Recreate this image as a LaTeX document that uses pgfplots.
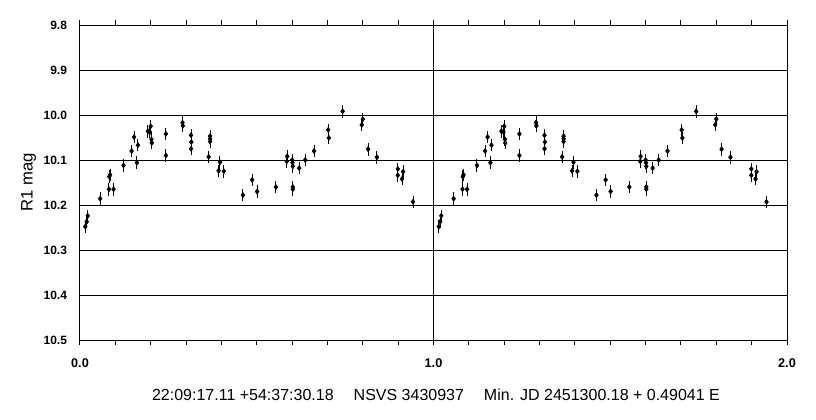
\documentclass[border=0pt]{standalone}
\usepackage{fontspec}
\setmainfont{Liberation Sans}
\usepackage{pgfplots}
\pgfplotsset{compat=1.18}

% one phase cycle, phase / R1 mag
\pgfplotstableread{
x y
0.015 10.248
0.019 10.237
0.022 10.224
0.057 10.186
0.082 10.165
0.083 10.137
0.085 10.133
0.095 10.165
0.123 10.112
0.146 10.080
0.153 10.049
0.161 10.106
0.164 10.067
0.192 10.036
0.198 10.038
0.200 10.025
0.202 10.054
0.203 10.062
0.243 10.042
0.243 10.090
0.290 10.017
0.291 10.024
0.314 10.045
0.315 10.060
0.314 10.075
0.368 10.047
0.368 10.053
0.368 10.059
0.364 10.093
0.396 10.105
0.392 10.124
0.407 10.125
0.461 10.178
0.487 10.144
0.501 10.170
0.554 10.160
0.586 10.092
0.585 10.103
0.600 10.100
0.601 10.106
0.602 10.114
0.602 10.160
0.602 10.165
0.620 10.118
0.637 10.100
0.662 10.080
0.702 10.033
0.704 10.051
0.743 9.992
0.797 10.022
0.800 10.009
0.815 10.076
0.840 10.094
0.899 10.120
0.899 10.134
0.911 10.142
0.914 10.126
0.942 10.193
}\phaseA

% same points, second cycle
\pgfplotstableread{
x y
1.015 10.248
1.019 10.237
1.022 10.224
1.057 10.186
1.082 10.165
1.083 10.137
1.085 10.133
1.095 10.165
1.123 10.112
1.146 10.080
1.153 10.049
1.161 10.106
1.164 10.067
1.192 10.036
1.198 10.038
1.200 10.025
1.202 10.054
1.203 10.062
1.243 10.042
1.243 10.090
1.290 10.017
1.291 10.024
1.314 10.045
1.315 10.060
1.314 10.075
1.368 10.047
1.368 10.053
1.368 10.059
1.364 10.093
1.396 10.105
1.392 10.124
1.407 10.125
1.461 10.178
1.487 10.144
1.501 10.170
1.554 10.160
1.586 10.092
1.585 10.103
1.600 10.100
1.601 10.106
1.602 10.114
1.602 10.160
1.602 10.165
1.620 10.118
1.637 10.100
1.662 10.080
1.702 10.033
1.704 10.051
1.743 9.992
1.797 10.022
1.800 10.009
1.815 10.076
1.840 10.094
1.899 10.120
1.899 10.134
1.911 10.142
1.914 10.126
1.942 10.193
}\phaseB

\begin{document}
\begin{tikzpicture}
\useasboundingbox (-60pt,-60pt) rectangle (552pt,255pt);
\begin{axis}[
  scale only axis,
  width=530.25pt, height=236.25pt,
  xmin=0, xmax=2, ymin=9.8, ymax=10.5,
  y dir=reverse,
  xtick={0,1,2}, minor x tick num=9,
  ytick={9.8,9.9,10.0,10.1,10.2,10.3,10.4,10.5},
  xmajorgrids, ymajorgrids,
  major grid style={black, line width=0.75pt},
  axis line style={line width=0.75pt},
  tick align=outside,
  major tick length=3.75pt, minor tick length=3.75pt,
  xtick style={black, line width=0.75pt},
  ytick style={draw=none},
  /pgf/number format/assume math mode=true,
  xticklabel style={font=\fontsize{9.5}{10}\selectfont\bfseries,
    /pgf/number format/.cd, fixed, fixed zerofill, precision=1},
  yticklabel style={font=\fontsize{9}{10}\selectfont\bfseries,
    /pgf/number format/.cd, fixed, fixed zerofill, precision=1},
  xticklabel shift=7pt,
  yticklabel shift=2.5pt,
  clip=false,
]
\addplot[black, only marks, mark=diamond*, mark size=1.9pt,
  error bars/.cd, y dir=both, y fixed=0.014,
  error bar style={line width=0.75pt}, error mark=none]
  table {\phaseA};
\addplot[black, only marks, mark=diamond*, mark size=1.9pt,
  error bars/.cd, y dir=both, y fixed=0.014,
  error bar style={line width=0.75pt}, error mark=none]
  table {\phaseB};
\node[rotate=90, font=\fontsize{12.5}{14}\selectfont]
  at ([xshift=-38.6pt]rel axis cs:0,0.5) {R1 mag};
\end{axis}
\node[font=\fontsize{12}{14}\selectfont] at (267pt,-41.25pt)
  {22:09:17.11 +54:37:30.18\hspace{15pt}NSVS 3430937\hspace{15pt}Min. JD 2451300.18 + 0.49041 E};
\end{tikzpicture}
\end{document}
